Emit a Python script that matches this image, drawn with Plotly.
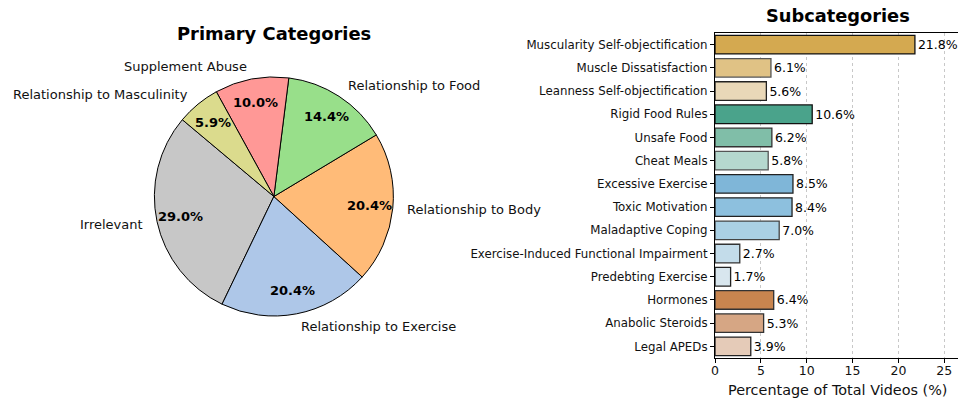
import math
import plotly.graph_objects as go

# ---------------- data ----------------
pie_labels = ["Irrelevant", "Relationship to Exercise", "Relationship to Body",
              "Relationship to Food", "Supplement Abuse", "Relationship to Masculinity"]
pie_values = [29.0, 20.4, 20.4, 14.4, 10.0, 5.9]
pie_colors = ["#c7c7c7", "#aec7e8", "#ffbb78", "#98df8a", "#ff9896", "#dbdb8d"]

bar_labels = ["Muscularity Self-objectification", "Muscle Dissatisfaction",
              "Leanness Self-objectification", "Rigid Food Rules", "Unsafe Food",
              "Cheat Meals", "Excessive Exercise", "Toxic Motivation",
              "Maladaptive Coping", "Exercise-Induced Functional Impairment",
              "Predebting Exercise", "Hormones", "Anabolic Steroids", "Legal APEDs"]
bar_values = [21.8, 6.1, 5.6, 10.6, 6.2, 5.8, 8.5, 8.4, 7.0, 2.7, 1.7, 6.4, 5.3, 3.9]
bar_colors = ["#d4a950", "#e0c285", "#e9d8b8", "#4aa38b", "#80bea8", "#b5d8ce",
              "#7fb6d8", "#8dc0de", "#aad0e4", "#c3dcea", "#d8e6ee",
              "#c8854f", "#d6a684", "#e5cbb8"]
bar_edges = ["#111111", "#555555", "#222222", "#111111", "#333333", "#555555",
             "#222222", "#222222", "#444444", "#333333", "#222222",
             "#333333", "#333333", "#222222"]
x_ticks = [0, 5, 10, 15, 20, 25]

W, H = 958, 402
FONT = "DejaVu Sans"

# pie geometry (pixels)
cx, cy, R = 271.0, 196.5, 120.0
start_angle = 140.0

total = sum(pie_values)
first_span = pie_values[0] / total * 360

fig = go.Figure()

fig.add_trace(go.Pie(
    labels=pie_labels, values=pie_values, sort=False,
    direction="counterclockwise", rotation=90 - (start_angle + first_span),
    marker=dict(colors=pie_colors, line=dict(color="black", width=1)),
    textinfo="none", hoverinfo="label+percent", showlegend=False,
    domain=dict(x=[(cx - R) / W, (cx + R) / W], y=[1 - (cy + R) / H, 1 - (cy - R) / H]),
))

fig.add_trace(go.Bar(
    y=bar_labels, x=bar_values, orientation="h",
    marker=dict(color=bar_colors, line=dict(color=bar_edges, width=1.3)),
    width=0.8,
    text=[f"{v:.1f}%" for v in bar_values], textposition="outside",
    textfont=dict(family=FONT, size=12.5, color="black"),
    cliponaxis=False, showlegend=False,
    xaxis="x", yaxis="y",
))

annotations = []
ang = start_angle
for lab, v in zip(pie_labels, pie_values):
    span = v / total * 360
    mid = math.radians(ang + span / 2)
    ang += span
    c, s = math.cos(mid), math.sin(mid)
    # outer label
    lx, ly = cx + 1.1 * R * c, cy - 1.1 * R * s
    annotations.append(dict(
        x=lx / W, y=1 - ly / H, xref="paper", yref="paper", text=lab, showarrow=False,
        xanchor="left" if c > 0 else "right", yanchor="middle",
        font=dict(family=FONT, size=13, color="#111111")))
    # percentage
    px_, py_ = cx + 0.8 * R * c, cy - 0.8 * R * s
    annotations.append(dict(
        x=px_ / W, y=1 - py_ / H, xref="paper", yref="paper",
        text=f"<b>{v:.1f}%</b>", showarrow=False, xanchor="center", yanchor="middle",
        font=dict(family=FONT, size=13, color="black")))

annotations.append(dict(x=cx / W, y=1 - 33 / H, xref="paper", yref="paper",
                        text="<b>Primary Categories</b>", showarrow=False,
                        xanchor="center", yanchor="middle",
                        font=dict(family=FONT, size=17.9, color="black")))
annotations.append(dict(x=837 / W, y=1 - 15.5 / H, xref="paper", yref="paper",
                        text="<b>Subcategories</b>", showarrow=False,
                        xanchor="center", yanchor="middle",
                        font=dict(family=FONT, size=17.8, color="black")))
annotations.append(dict(x=837 / W, y=1 - 390 / H, xref="paper", yref="paper",
                        text="Percentage of Total Videos (%)", showarrow=False,
                        xanchor="center", yanchor="middle",
                        font=dict(family=FONT, size=14.4, color="#111111")))

fig.update_layout(
    width=W, height=H,
    margin=dict(l=0, r=0, t=0, b=0),
    paper_bgcolor="white", plot_bgcolor="white",
    font=dict(family=FONT, size=12, color="#111111"),
    annotations=annotations,
    bargap=0.2,
    xaxis=dict(domain=[714 / W, 1.0], range=[0, 26.5], tickvals=x_ticks,
               showgrid=True, gridcolor="#c8c8c8", griddash="dot", gridwidth=1,
               zeroline=False, showline=True, linecolor="black", linewidth=1.2,
               mirror=True, ticks="outside", ticklen=4, tickcolor="black",
               ticklabelstandoff=-3,
               tickfont=dict(family=FONT, size=12.5, color="#111111"), anchor="y"),
    yaxis=dict(domain=[1 - 358 / H, 1 - 33 / H], range=[13.5, -0.5],
               categoryorder="array", categoryarray=bar_labels,
               showgrid=False, zeroline=False, showline=True, linecolor="black",
               linewidth=1.2, ticks="outside", ticklen=4, tickcolor="black",
               tickfont=dict(family=FONT, size=11.8, color="#111111"), anchor="x"),
)

fig.write_html("out.html", config={"displayModeBar": False},
               post_script="document.body.style.margin='0px';document.body.style.overflow='hidden';")
